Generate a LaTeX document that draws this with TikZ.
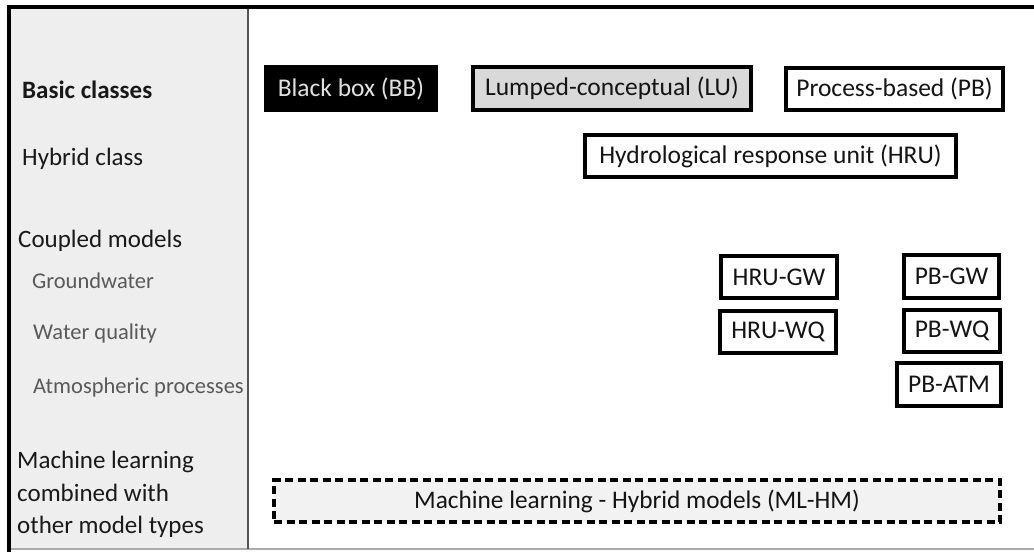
\documentclass[tikz,border=0pt]{standalone}
\usepackage{fontspec}
\setmainfont{Carlito}
\definecolor{panel}{HTML}{EEEEEE}
\definecolor{lugray}{HTML}{D9D9D9}
\definecolor{mlgray}{HTML}{F2F2F2}
\definecolor{subtext}{HTML}{595959}
\definecolor{divider}{HTML}{555555}
\definecolor{bottomline}{HTML}{AAAAAA}
\begin{document}
\begin{tikzpicture}[x=1pt,y=-1pt,
  modelbox/.style={draw=black, line width=3.3pt, fill=white, inner sep=0pt, font=\fontsize{25.5}{30}\selectfont, text=black!92},
  rowlabel/.style={anchor=base west, inner sep=0pt, font=\fontsize{25}{30}\selectfont, text=black!90},
  sublabel/.style={anchor=base west, inner sep=0pt, font=\fontsize{22.5}{27}\selectfont, text=subtext}]
\useasboundingbox (0,0) rectangle (1034,552);
% left panel and frame
\fill[panel] (9,8) rectangle (248,549);
\draw[bottomline, line width=1.8pt] (9,549) -- (1034,549);
\draw[divider, line width=2.2pt] (248,8) -- (248,549);
\draw[black, line width=3.4pt] (9,7) -- (9,552);
\draw[black, line width=4.4pt] (7.3,7) -- (1034,7);
% row labels
\node[rowlabel, font=\fontsize{25}{30}\selectfont\bfseries] (lbasic) at (22,98) {Basic classes};
\node[rowlabel] (lhybrid) at (22,165) {Hybrid class};
\node[rowlabel] (lcoupled) at (18,247) {Coupled models};
\node[sublabel] (lgw) at (32,288) {Groundwater};
\node[sublabel] (lwq) at (33,339) {Water quality};
\node[sublabel] (latm) at (33,393) {Atmospheric processes};
\node[rowlabel] (lml1) at (17,468) {Machine learning};
\node[rowlabel] (lml2) at (17,501) {combined with};
\node[rowlabel] (lml3) at (17,533) {other model types};
% basic classes
\node[modelbox, fill=black, text=white!88!black, minimum width=170pt, minimum height=43pt] (bb) at (351,88.5) {Black box (BB)};
\node[modelbox, fill=lugray, minimum width=278pt, minimum height=43pt] (lu) at (612,88.5) {Lumped-conceptual (LU)};
\node[modelbox, minimum width=217pt, minimum height=42pt] (pb) at (894.5,89) {Process-based (PB)};
% hybrid
\node[modelbox, minimum width=371pt, minimum height=42pt] (hru) at (770.5,156) {Hydrological response unit (HRU)};
% coupled
\node[modelbox, minimum width=116pt, minimum height=42pt] (hrugw) at (779,277) {HRU-GW};
\node[modelbox, minimum width=116pt, minimum height=42pt] (hruwq) at (778,332) {HRU-WQ};
\node[modelbox, minimum width=95pt, minimum height=43pt] (pbgw) at (951.5,276.5) {PB-GW};
\node[modelbox, minimum width=96pt, minimum height=42pt] (pbwq) at (952,331) {PB-WQ};
\node[modelbox, minimum width=104pt, minimum height=43pt] (pbatm) at (949,384.5) {PB-ATM};
% machine learning hybrid
\node[draw=black, line width=3.2pt, dash pattern=on 8pt off 4.5pt, fill=mlgray, minimum width=726pt, minimum height=42pt, inner sep=0pt, font=\fontsize{25.3}{30}\selectfont, text=black!92] (mlhm) at (637,501) {Machine learning - Hybrid models (ML-HM)};
\end{tikzpicture}
\end{document}
